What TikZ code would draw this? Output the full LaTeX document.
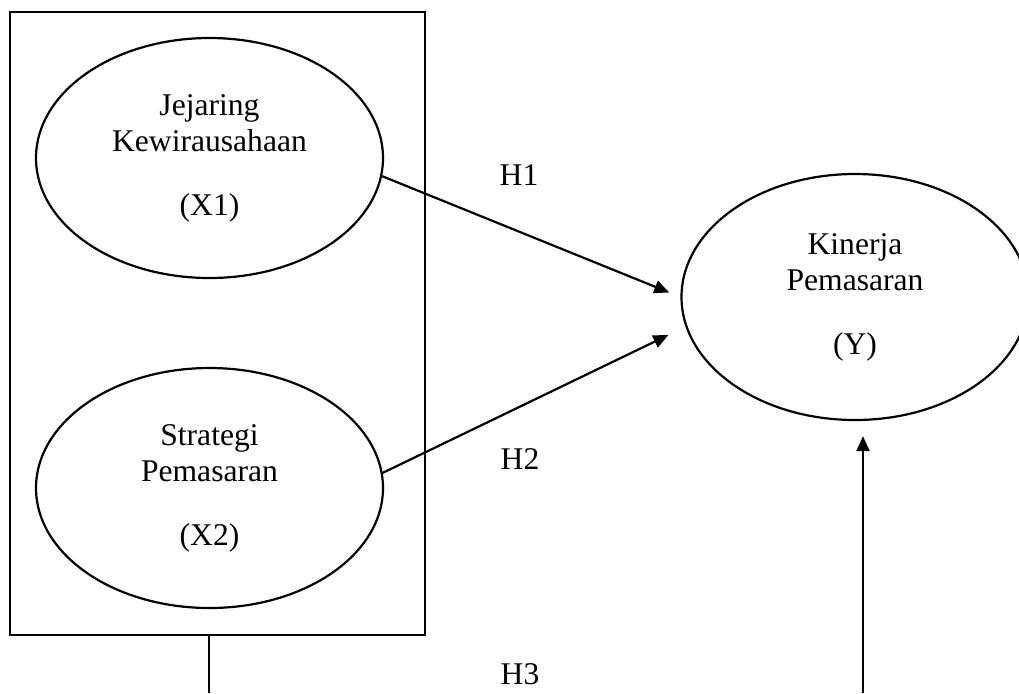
\documentclass[tikz,border=0pt]{standalone}
\usepackage{fontspec}
\setmainfont{Liberation Serif}
\usepackage{tikz}
\usetikzlibrary{shapes.geometric, arrows.meta}

\begin{document}
\begin{tikzpicture}[
  x=0.5pt, y=-0.5pt,
  line width=1.1pt,
  every node/.style={font=\fontsize{15.8}{18}\selectfont},
  latent/.style={ellipse, draw, line width=1.1pt, minimum width=173.5pt, minimum height=120pt, align=center, inner sep=0pt},
  frame/.style={rectangle, draw, line width=1.1pt, minimum width=207.5pt, minimum height=311.5pt, inner sep=0pt},
  hyp/.style={inner sep=0pt},
  arrow/.style={-{Triangle[length=7.5pt, width=6.5pt]}, line width=1.1pt}
]
  \useasboundingbox (0,0) rectangle (1019,693);

  \node[frame] (group) at (217.5,323.5) {};

  \node[latent] (x1) at (209.5,158) {Jejaring\\Kewirausahaan\\[14pt](X1)};
  \node[latent] (x2) at (209.5,488) {Strategi\\Pemasaran\\[14pt](X2)};
  \node[latent, minimum height=123pt] (y) at (855,297) {Kinerja\\Pemasaran\\[14pt](Y)};

  \node[hyp] (h1) at (519,175) {H1};
  \node[hyp] (h2) at (520,459) {H2};
  \node[hyp] (h3) at (520,674) {H3};

  \coordinate (base3) at (209,693);
  \coordinate (base4) at (863,693);

  \draw[arrow, shorten >=6pt] (x1.-6) -- (y.west);
  \draw[arrow] (x2.5) -- ([xshift=-6pt, yshift=-19pt]y.west);
  \draw (base3 |- group.south) -- (base3);
  \draw[arrow, shorten >=7.5pt] (base4) -- (base4 |- y.south);

\end{tikzpicture}
\end{document}
